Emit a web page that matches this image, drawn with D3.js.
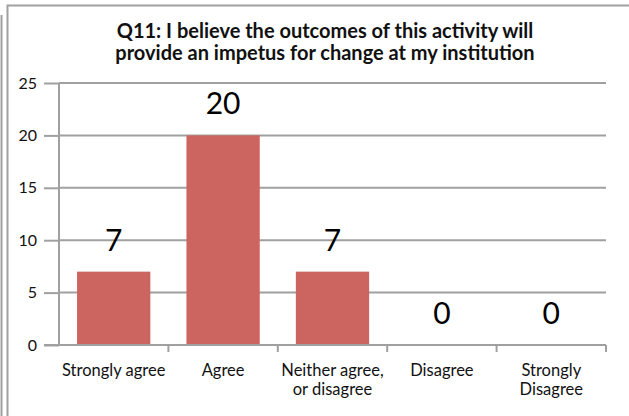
<!DOCTYPE html>
<html>
<head>
<meta charset="utf-8">
<script src="https://cdn.jsdelivr.net/npm/d3@7"></script>
<style>
  body { margin: 0; background: #fff; }
  svg { display: block; font-family: Lato, sans-serif; }
</style>
</head>
<body>
<svg id="chart" width="629" height="416"></svg>
<script>
/* ───── data ───── */
const categories = ['Strongly agree', 'Agree', 'Neither agree,\nor disagree', 'Disagree', 'Strongly\nDisagree'];
const counts = [7, 20, 7, 0, 0];
const yTicks = [0, 5, 10, 15, 20, 25];
const titleLines = ['Q11: I believe the outcomes of this activity will',
                    'provide an impetus for change at my institution'];

const svg = d3.select('#chart');
const m = { left: 59, right: 606, top: 83, bottom: 345 };
const grey = '#a0a0a0';

// frame lines (chart border)
svg.append('path')
  .attr('d', 'M7.5,416 V5.5 H629')
  .attr('fill', 'none').attr('stroke', grey).attr('stroke-width', 2);
svg.append('path')
  .attr('d', 'M1.5,15 V416')
  .attr('fill', 'none').attr('stroke', grey).attr('stroke-width', 2);

// title
svg.append('g').selectAll('text')
  .data(titleLines)
  .join('text')
  .attr('x', 325)
  .attr('y', (d, i) => 38 + i * 22)
  .attr('text-anchor', 'middle')
  .style('font-size', '20px')
  .style('font-weight', 'bold')
  .attr('fill', '#111')
  .text(d => d);

const x = d3.scaleBand().domain(categories).range([m.left, m.right]).paddingInner(0.33).paddingOuter(0.165);
const xb = d3.scaleBand().domain(categories).range([m.left, m.right]);
const y = d3.scaleLinear().domain([0, 25]).range([m.bottom, m.top]);

// y ticks
const yAxis = svg.append('g')
  .attr('transform', `translate(${m.left},0)`)
  .call(d3.axisLeft(y).tickValues(yTicks).tickSize(15).tickPadding(7).tickFormat(d3.format('d')));
yAxis.attr('font-family', null).attr('font-size', null);
yAxis.select('.domain').remove();
yAxis.selectAll('line').attr('stroke', grey).attr('stroke-width', 2);
yAxis.selectAll('text').style('font-size', '16px').attr('fill', '#111');

// gridlines
svg.append('g').selectAll('line')
  .data(yTicks.filter(d => d > 0))
  .join('line')
  .attr('x1', m.left).attr('x2', m.right)
  .attr('y1', d => y(d)).attr('y2', d => y(d))
  .attr('stroke', grey).attr('stroke-width', 2);

// bars
svg.append('g').selectAll('rect')
  .data(counts)
  .join('rect')
  .attr('x', (d, i) => x(categories[i]))
  .attr('width', x.bandwidth())
  .attr('y', d => y(d))
  .attr('height', d => y(0) - y(d))
  .attr('fill', '#cc6560');

// axis lines
svg.append('line')
  .attr('x1', m.left).attr('x2', m.left).attr('y1', m.top).attr('y2', m.bottom)
  .attr('stroke', grey).attr('stroke-width', 2);
svg.append('line')
  .attr('x1', m.left - 15).attr('x2', m.right).attr('y1', m.bottom).attr('y2', m.bottom)
  .attr('stroke', grey).attr('stroke-width', 2);
svg.append('g').selectAll('line')
  .data(categories.map((c, i) => i + 1))
  .join('line')
  .attr('x1', i => m.left + i * xb.bandwidth()).attr('x2', i => m.left + i * xb.bandwidth())
  .attr('y1', m.bottom).attr('y2', m.bottom + 7)
  .attr('stroke', grey).attr('stroke-width', 2);

// value labels
svg.append('g').selectAll('text')
  .data(counts)
  .join('text')
  .attr('x', (d, i) => x(categories[i]) + x.bandwidth() / 2)
  .attr('y', d => y(d) - 21)
  .attr('text-anchor', 'middle')
  .style('font-size', '30px')
  .attr('fill', '#000')
  .text(d => d);

// category labels
svg.append('g').selectAll('text')
  .data(categories)
  .join('text')
  .attr('text-anchor', 'middle')
  .style('font-size', '16.5px')
  .attr('fill', '#111')
  .each(function (d) {
    const t = d3.select(this);
    const cx = xb(d) + xb.bandwidth() / 2;
    d.split('\n').forEach((s, i) => {
      t.append('tspan').attr('x', cx).attr('y', 376 + i * 19).text(s);
    });
  });
</script>
</body>
</html>
